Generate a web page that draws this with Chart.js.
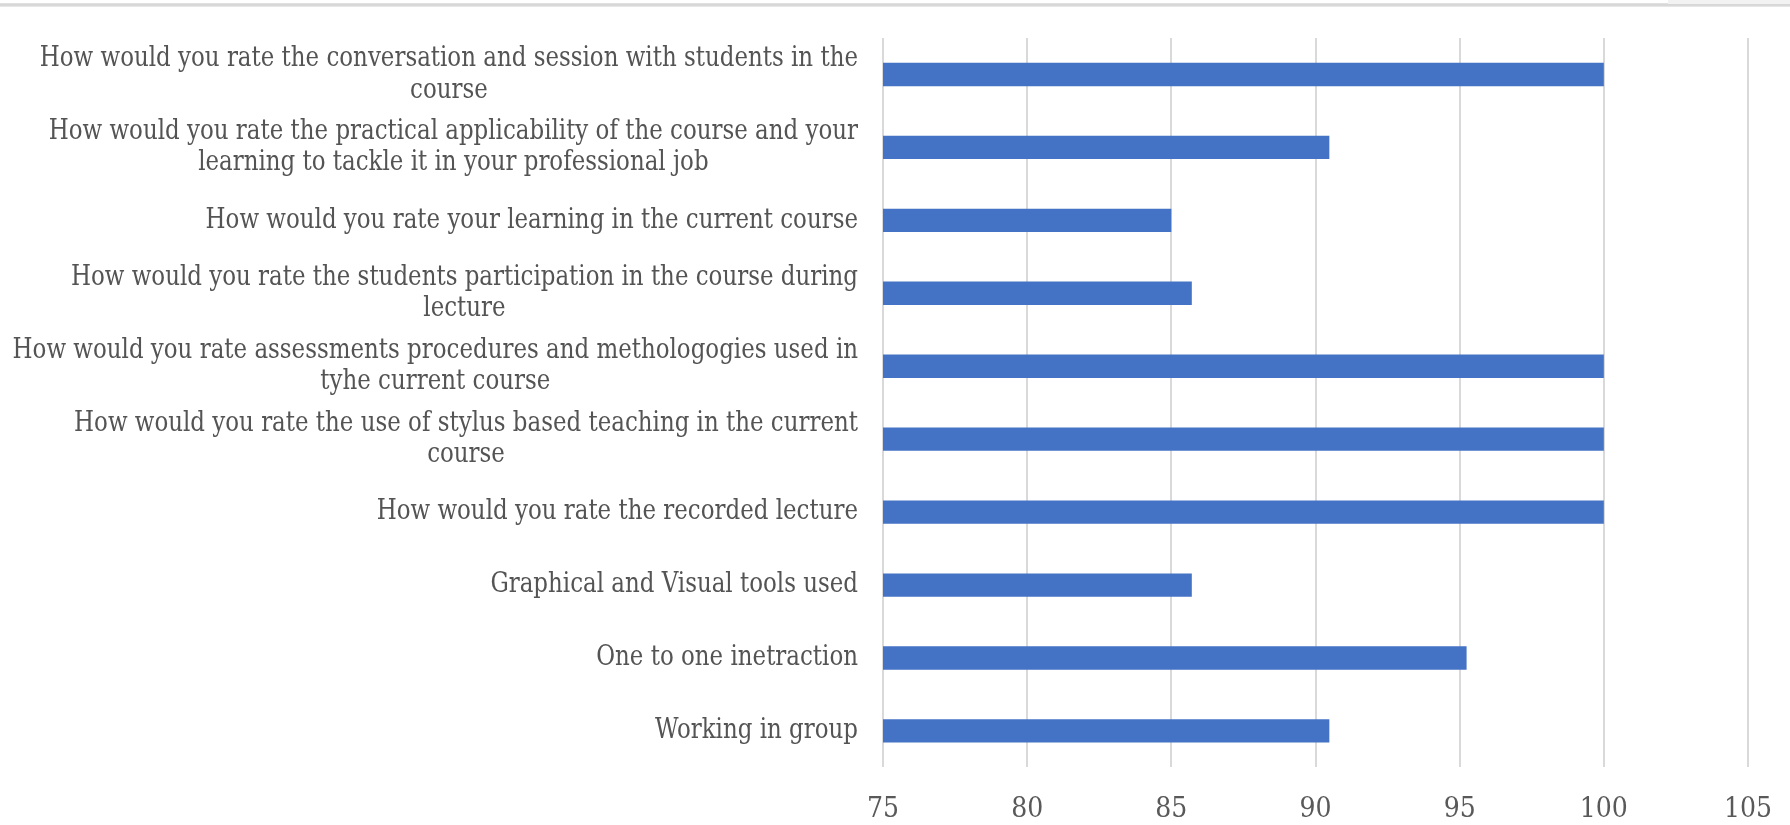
<!DOCTYPE html>
<html>
<head>
<meta charset="utf-8">
<title>Course feedback</title>
<script src="https://cdn.jsdelivr.net/npm/chart.js@4.4.1/dist/chart.umd.min.js"></script>
<style>
  html, body { margin: 0; padding: 0; background: #ffffff; }
  #wrap { position: relative; width: 1790px; height: 825px; overflow: hidden; }
  /* thin window edge along the top */
  #topEdge { position: absolute; left: 0; top: 3px; width: 1790px; height: 4px;
             background: linear-gradient(#e6e6e6, #d2d2d2, #ededed); }
  #topTab { position: absolute; left: 1668px; top: 0; width: 122px; height: 4px; background: #f2f2f2; }
  #feedbackChart { position: absolute; left: 0; top: 0; }
</style>
</head>
<body>
<div id="wrap">
  <canvas id="feedbackChart" width="1790" height="825"></canvas>
  <div id="topEdge"></div>
  <div id="topTab"></div>
</div>
<script>
/* Survey questions, top to bottom. Two-line questions are split where they wrap. */
var questions = [
  ['How would you rate the conversation and session with students in the', 'course'],
  ['How would you rate the practical applicability of the course and your', 'learning to tackle it in your professional job'],
  ['How would you rate your learning in the current course'],
  ['How would you rate the students participation in the course during', 'lecture'],
  ['How would you rate assessments procedures and methologogies used in', 'tyhe current course'],
  ['How would you rate the use of stylus based teaching in the current', 'course'],
  ['How would you rate the recorded lecture'],
  ['Graphical and Visual tools used'],
  ['One to one inetraction'],
  ['Working in group']
];

/* Score for each question (percent) */
var scores = [100, 90.48, 85, 85.71, 100, 100, 100, 85.71, 95.24, 90.48];

/* Value axis range */
var axisMin = 75;
var axisMax = 105;
var axisStep = 5;

var serif = '"DejaVu Serif Condensed", "DejaVu Serif", serif';
var labelFont = '25.5px ' + serif;
var labelColor = '#545454';
var labelLineHeight = 31.5;
var labelStretch = 1.1;   // question text is drawn a little taller than wide

/* Question text on the left: each block sits against the axis,
   its lines centred on one another. */
var questionLabels = {
  id: 'questionLabels',
  afterDraw: function(chart) {
    var ctx = chart.ctx;
    var yScale = chart.scales.y;
    var right = chart.chartArea.left - 25;
    ctx.save();
    ctx.font = labelFont;
    ctx.fillStyle = labelColor;
    ctx.textAlign = 'center';
    ctx.textBaseline = 'middle';
    questions.forEach(function(lines, i) {
      var blockW = Math.max.apply(null, lines.map(function(t) { return ctx.measureText(t).width; }));
      var cx = right - blockW / 2;
      var cy = yScale.getPixelForValue(i) - (lines.length - 1) * labelLineHeight / 2;
      lines.forEach(function(t, j) {
        ctx.save();
        ctx.translate(cx, cy + j * labelLineHeight);
        ctx.scale(1, labelStretch);
        ctx.fillText(t, 0, 0);
        ctx.restore();
      });
    });
    ctx.restore();
  }
};

function createFeedbackChart(canvasid) {
  var ctx = document.getElementById(canvasid).getContext('2d');
  return new Chart(ctx, {
    type: 'bar',
    data: {
      labels: questions.map(function(l) { return l.join(' '); }),
      datasets: [{
        label: 'Score',
        data: scores,
        backgroundColor: '#4472C4',
        borderWidth: 0,
        barPercentage: 0.32,
        categoryPercentage: 1.0
      }]
    },
    options: {
      indexAxis: 'y',
      responsive: false,
      animation: false,
      layout: { padding: { left: 883, right: 42, top: 38, bottom: -28 } },
      plugins: {
        legend: { display: false },
        tooltip: { enabled: false }
      },
      scales: {
        x: {
          min: axisMin,
          max: axisMax,
          border: { display: false },
          grid: { color: '#d9d9d9', lineWidth: 2, drawTicks: false },
          ticks: {
            stepSize: axisStep,
            padding: 26,
            color: '#595959',
            font: { family: serif, size: 28 }
          },
          // the outer tick labels fit inside the layout padding
          afterFit: function(scale) { scale.paddingLeft = 0; scale.paddingRight = 0; }
        },
        y: {
          border: { display: false },
          grid: { display: false },
          ticks: { display: false },
          afterFit: function(scale) { scale.width = 0; }
        }
      }
    },
    plugins: [questionLabels]
  });
}

createFeedbackChart('feedbackChart');
</script>
</body>
</html>
